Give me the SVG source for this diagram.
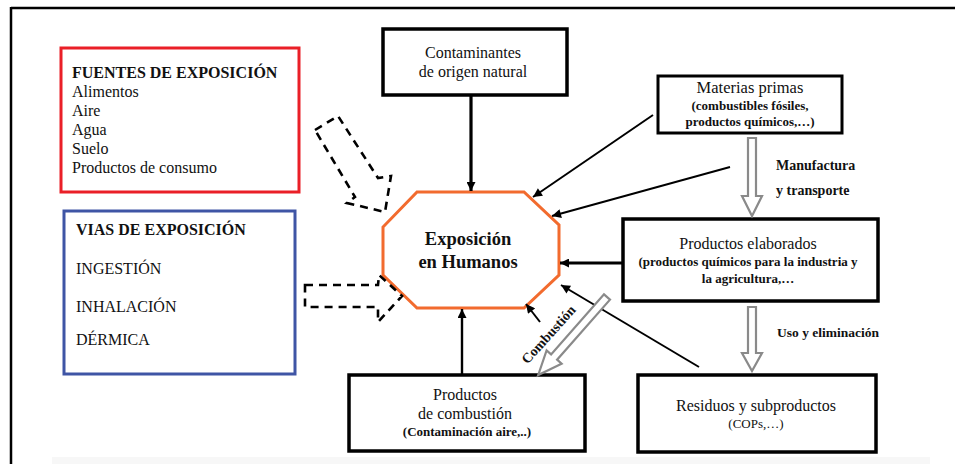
<svg xmlns="http://www.w3.org/2000/svg" width="955" height="464" viewBox="0 0 955 464">
<defs>
<marker id="ah" viewBox="0 0 10 10" refX="10" refY="5" markerWidth="11" markerHeight="9" markerUnits="userSpaceOnUse" orient="auto"><path d="M0,0 L10,5 L0,10 z" fill="#000"/></marker>
</defs>
<style>
text{font-family:"Liberation Serif","Times New Roman",serif;fill:#111}
.box{fill:#fff;stroke:#000;stroke-width:3.5}
.t16{font-size:16px}
.b16{font-size:16px;font-weight:bold}
.sub{font-size:13px;font-weight:bold}
.c{text-anchor:middle}
.con{stroke:#000;fill:none}
.thin{stroke-width:2}
.thick{stroke-width:3.2}
.dash{fill:none;stroke:#000;stroke-width:2.6;stroke-dasharray:8 6}
.gray{fill:#fff;stroke:#8a8a8a;stroke-width:2.2}
.lab{font-size:14px;font-weight:bold}
</style>
<rect x="0" y="0" width="955" height="464" fill="#fff"/>
<g id="frame">
<path d="M11,8 H955 M11,7 V464" stroke="#000" stroke-width="2.5" fill="none"/>
<rect x="52" y="457" width="878" height="7" fill="#f7f7f7"/>
</g>

<g id="fuentes">
<rect x="61" y="48" width="238" height="144" fill="#fff" stroke="#ea1f27" stroke-width="3"/>
<text x="72" y="78" class="b16">FUENTES DE EXPOSICIÓN</text>
<text x="72" y="97" class="t16">Alimentos</text>
<text x="72" y="116" class="t16">Aire</text>
<text x="72" y="135" class="t16">Agua</text>
<text x="72" y="154" class="t16">Suelo</text>
<text x="72" y="173" class="t16">Productos de consumo</text>
</g>

<g id="vias">
<rect x="64" y="211" width="231" height="163" fill="#fff" stroke="#3f55a5" stroke-width="3"/>
<text x="76" y="235" class="b16">VIAS DE EXPOSICIÓN</text>
<text x="76" y="274" class="t16">INGESTIÓN</text>
<text x="76" y="312" class="t16">INHALACIÓN</text>
<text x="76" y="345" class="t16">DÉRMICA</text>
</g>

<g id="natural">
<rect x="383" y="29" width="184" height="66" class="box"/>
<text x="473" y="58" class="t16 c">Contaminantes</text>
<text x="473" y="77" class="t16 c">de origen natural</text>
</g>

<g id="exposicion">
<polygon points="417,192 524,192 559,225 559,275 524,308 417,308 383,275 383,227" fill="#fff" stroke="#f26b2e" stroke-width="3"/>
<text x="468" y="245" class="c" style="font-size:18.5px;font-weight:bold">Exposición</text>
<text x="468" y="268" class="c" style="font-size:18.5px;font-weight:bold">en Humanos</text>
</g>

<g id="materias">
<rect x="658" y="76" width="184" height="57" class="box" style="stroke-width:3"/>
<text x="750" y="93" class="c" style="font-size:16.5px">Materias primas</text>
<text x="750" y="110" class="sub c">(combustibles fósiles,</text>
<text x="750" y="126" class="sub c">productos químicos,…)</text>
</g>

<g id="elaborados">
<rect x="623" y="219" width="255" height="82" class="box"/>
<text x="748" y="249" class="t16 c">Productos elaborados</text>
<text x="748" y="266" class="sub c">(productos químicos para la industria y</text>
<text x="748" y="283" class="sub c">la agricultura,…</text>
</g>

<g id="residuos">
<rect x="638" y="375" width="238" height="77" class="box"/>
<text x="756" y="411" class="t16 c">Residuos y subproductos</text>
<text x="756" y="428" class="c" style="font-size:13px">(COPs,…)</text>
</g>

<g id="combustion">
<rect x="349" y="375" width="236" height="76" class="box"/>
<text x="465" y="400" class="t16 c">Productos</text>
<text x="465" y="419" class="t16 c">de combustión</text>
<text x="467" y="436" class="sub c">(Contaminación aire,..)</text>
</g>

<g id="connectors">
<line x1="471" y1="96" x2="471" y2="191" class="con thick" marker-end="url(#ah)"/>
<line x1="653" y1="115" x2="533" y2="197" class="con thin" marker-end="url(#ah)"/>
<line x1="730" y1="167" x2="552" y2="216" class="con thin" marker-end="url(#ah)"/>
<line x1="622" y1="263" x2="560" y2="263" class="con thick" marker-end="url(#ah)"/>
<line x1="699" y1="367" x2="561" y2="285" class="con thin" marker-end="url(#ah)"/>
<line x1="540" y1="322" x2="526" y2="304" class="con thin" marker-end="url(#ah)"/>
<line x1="462" y1="374" x2="462" y2="309" class="con thin" style="stroke-width:2.4" marker-end="url(#ah)"/>
<polygon points="315,130 338,116 378,178 391,176 385,212 347,203 355,197" class="dash"/>
<polygon points="305,285 378,285 379,275 402,296 378,322 378,307 305,307" class="dash"/>
<polygon points="748,138 756,138 756,196 762,196 752,216 742,196 748,196" class="gray"/>
<polygon points="748,307 756,307 756,353 762,353 752,371 742,353 748,353" class="gray"/>
<g transform="translate(607,297) rotate(131.4)">
<polygon points="0,-4 80,-4 80,-10 104,0 80,10 80,4 0,4" class="gray"/>
</g>
<text x="776" y="170" class="lab">Manufactura</text>
<text x="776" y="195" class="lab">y transporte</text>
<text x="777" y="337" class="lab" style="font-size:13.5px">Uso y eliminación</text>
<text transform="translate(549,335) rotate(-48)" x="0" y="4" class="lab c" style="font-size:14px">Combustión</text>
</g>
</svg>
